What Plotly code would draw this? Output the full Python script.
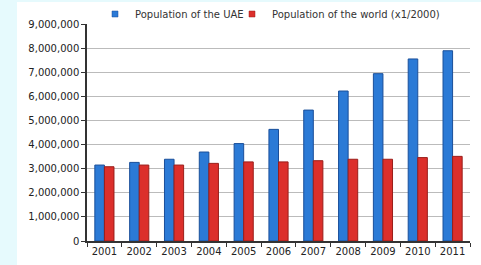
import plotly.graph_objects as go

years = ["2001", "2002", "2003", "2004", "2005", "2006", "2007", "2008", "2009", "2010", "2011"]
uae_population = [3150000, 3260000, 3390000, 3690000, 4040000, 4630000, 5430000, 6220000, 6940000, 7550000, 7890000]
world_population_scaled = [3080000, 3150000, 3150000, 3220000, 3280000, 3280000, 3330000, 3390000, 3390000, 3460000, 3510000]
y_ticks = [0, 1000000, 2000000, 3000000, 4000000, 5000000, 6000000, 7000000, 8000000, 9000000]
y_tick_labels = ["0", "1,000,000", "2,000,000", "3,000,000", "4,000,000", "5,000,000",
                 "6,000,000", "7,000,000", "8,000,000", "9,000,000"]
series_names = ["Population of the UAE", "Population of the world (x1/2000)"]
series_colors = ["#2b7ad6", "#dc2f2b"]
series_edges = ["#1a4f9a", "#9a1e1a"]

W, H = 481, 265
ml, mr, mt, mb = 87, 11, 24, 24
pw, ph = W - ml - mr, H - mt - mb
BG = "#e6fafd"

def px_x(p):
    return (p - ml) / pw

def px_y(p):
    return (H - mb - p) / ph

fig = go.Figure()
for i, vals in enumerate([uae_population, world_population_scaled]):
    fig.add_trace(go.Bar(
        x=years, y=vals, name=series_names[i], legendgroup=f"g{i}", showlegend=False,
        marker=dict(color=series_colors[i], line=dict(color=series_edges[i], width=1)),
    ))
# legend entries (small square swatches like the original)
legend_x_px = [95, 232]
for i in range(2):
    fig.add_trace(go.Scatter(
        x=[None], y=[None], mode="markers", name=series_names[i], legendgroup=f"g{i}",
        legend="legend" if i == 0 else "legend2",
        marker=dict(symbol="square", size=6, color=series_colors[i],
                    line=dict(color=series_edges[i], width=0.5)),
    ))

# light cyan page surround (left strip and thin top strip) around the white chart box
fig.add_shape(type="rect", xref="paper", yref="paper",
              x0=px_x(-5), x1=px_x(17), y0=px_y(275), y1=px_y(-5),
              fillcolor=BG, line=dict(width=0), layer="below")
fig.add_shape(type="rect", xref="paper", yref="paper",
              x0=px_x(-5), x1=px_x(490), y0=px_y(2), y1=px_y(-5),
              fillcolor=BG, line=dict(width=0), layer="below")

FONT = "DejaVu Sans, Verdana, sans-serif"
leg_common = dict(orientation="h", xanchor="left", yanchor="middle",
                  bgcolor="rgba(0,0,0,0)", itemwidth=30,
                  font=dict(family=FONT, size=10, color="#333333"))

fig.update_layout(
    width=W, height=H,
    margin=dict(l=ml, r=mr, t=mt, b=mb, pad=0, autoexpand=False),
    paper_bgcolor="white",
    plot_bgcolor="rgba(0,0,0,0)",
    barmode="group",
    bargap=0.45,
    bargroupgap=0,
    font=dict(family=FONT, size=10, color="#333333"),
    showlegend=True,
    legend=dict(x=px_x(legend_x_px[0]), y=px_y(14), **leg_common),
    legend2=dict(x=px_x(legend_x_px[1]), y=px_y(14), **leg_common),
    xaxis=dict(
        showline=True, linecolor="#333333", linewidth=1.5,
        ticks="outside", ticklen=4, tickcolor="#333333", tickson="boundaries",
        showgrid=False, tickfont=dict(family=FONT, size=10, color="#222222"),
    ),
    yaxis=dict(
        range=[0, 9000000], tickvals=y_ticks, ticktext=y_tick_labels,
        showline=True, linecolor="#333333", linewidth=1.5,
        ticks="outside", ticklen=4, tickcolor="#333333",
        showgrid=True, gridcolor="#bbbbbb", gridwidth=1,
        zeroline=False, tickfont=dict(family=FONT, size=10, color="#222222"),
    ),
)

fig.write_html(
    "out.html",
    config={"displayModeBar": False, "responsive": False},
    post_script=(
        "document.body.style.margin='0';"
        "document.body.style.overflow='hidden';"
        "document.documentElement.style.overflow='hidden';"
        "document.body.style.background='" + BG + "';"
    ),
)
